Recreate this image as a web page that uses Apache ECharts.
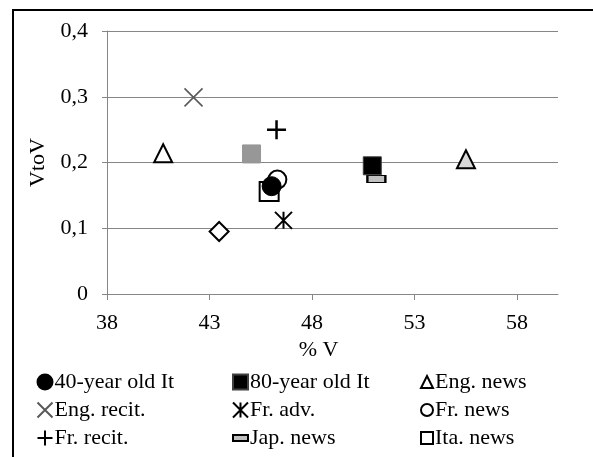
<!DOCTYPE html>
<html>
<head>
<meta charset="utf-8">
<script src="https://cdn.jsdelivr.net/npm/echarts@6/dist/echarts.min.js"></script>
<style>html,body{margin:0;padding:0;background:#fff}#c{width:593px;height:457px}</style>
</head>
<body>
<div id="c"></div>
<script>
// ---- data ----
const xTicks = [38, 43, 48, 53, 58];
const yTicks = [0, 0.1, 0.2, 0.3, 0.4];
const legendCol1 = ['40-year old It', 'Eng. recit.', 'Fr. recit.'];
const legendCol2 = ['80-year old It', 'Fr. adv.', 'Jap. news'];
const legendCol3 = ['Eng. news', 'Fr. news', 'Ita. news'];
const pts40It = [[46.03, 0.164]];
const pts80It = [[50.94, 0.195], [45.05, 0.213]];
const ptsEngNews = [[40.74, 0.214], [55.51, 0.205]];
const ptsEngRecit = [[42.22, 0.299]];
const ptsFrAdv = [[46.61, 0.112]];
const ptsFrNews = [[46.31, 0.174]];
const ptsFrRecit = [[46.27, 0.250]];
const ptsJapNews = [[51.14, 0.175]];
const ptsItaNews = [[45.91, 0.156]];
const ptsOther = [[43.47, 0.095]];

const FONT = 'Liberation Serif';
const GRID = '#868686';
const chart = echarts.init(document.getElementById('c'));

function legend(col, left, size) {
  return {
    orient: 'vertical', left: left, top: 371, padding: 0,
    itemWidth: size, itemHeight: size, itemGap: 6,
    symbolKeepAspect: true,
    data: col.map(n => n === 'Jap. news' ? {name: n, icon: 'path://M0,0h18v7h-18z'} : n),
    textStyle: {fontFamily: FONT, fontSize: 22, color: '#000', lineHeight: 22, padding: [0, 0, 0, -3]},
    selectedMode: false
  };
}

const X = 'path://M0,0L20,20M20,0L0,20';
const PLUS = 'path://M10,0L10,20M0,10L20,10';
const STAR = 'path://M0,0L20,20M20,0L0,20M10,0L10,20';

function st(o) { return Object.assign({opacity: 1}, o); }

chart.setOption({
  animation: false,
  backgroundColor: '#fff',
  graphic: [{type: 'rect', shape: {x: 13, y: 10, width: 700, height: 600},
    style: {fill: 'none', stroke: '#000', lineWidth: 2}, silent: true}],
  grid: {left: 107, right: 35, top: 31, bottom: 163},
  legend: [legend(legendCol1, 35, 15), legend(legendCol2, 230.5, 15), legend(legendCol3, 420, 12)],
  xAxis: {
    type: 'value', min: 38, max: 60,
    name: '% V', nameLocation: 'middle', nameGap: 37,
    nameTextStyle: {fontFamily: FONT, fontSize: 22, color: '#000', padding: [0, 28, 0, 0]},
    axisLine: {show: true, lineStyle: {color: GRID, width: 1}},
    axisTick: {show: true, length: 6, customValues: xTicks, lineStyle: {color: GRID}},
    axisLabel: {customValues: xTicks, margin: 18, fontFamily: FONT, fontSize: 22, color: '#000'},
    splitLine: {show: false}
  },
  yAxis: {
    type: 'value', min: 0, max: 0.4, interval: 0.1,
    name: 'VtoV', nameLocation: 'middle', nameGap: 58,
    nameTextStyle: {fontFamily: FONT, fontSize: 22, color: '#000'},
    axisLine: {show: true, lineStyle: {color: GRID, width: 1}},
    axisTick: {show: true, length: 5, lineStyle: {color: GRID}},
    axisLabel: {margin: 19, fontFamily: FONT, fontSize: 22, color: '#000',
      formatter: v => String(Math.round(v * 10) / 10).replace('.', ',')},
    splitLine: {show: true, lineStyle: {color: GRID, width: 1}}
  },
  series: [
    {name: 'Ita. news', type: 'scatter', data: ptsItaNews, symbol: 'rect', symbolSize: 19,
      itemStyle: st({color: '#fff', borderColor: '#000', borderWidth: 2})},
    {name: 'Fr. news', type: 'scatter', data: ptsFrNews, symbol: 'circle', symbolSize: 18,
      itemStyle: st({color: '#fff', borderColor: '#000', borderWidth: 2})},
    {name: 'Other', type: 'scatter', data: ptsOther, symbol: 'diamond', symbolSize: 19,
      itemStyle: st({color: '#fff', borderColor: '#000', borderWidth: 2})},
    {name: 'Eng. news', type: 'scatter', symbol: 'triangle', symbolSize: 18,
      data: ptsEngNews.map((p, i) => i === 1 ? {value: p, itemStyle: {color: '#d9d9d9'}} : p),
      itemStyle: st({color: '#fff', borderColor: '#000', borderWidth: 2})},
    {name: 'Eng. recit.', type: 'scatter', data: ptsEngRecit, symbol: X, symbolSize: 18,
      itemStyle: st({color: 'none', borderColor: '#595959', borderWidth: 1.6})},
    {name: 'Fr. adv.', type: 'scatter', data: ptsFrAdv, symbol: STAR, symbolSize: 17,
      itemStyle: st({color: 'none', borderColor: '#000', borderWidth: 2})},
    {name: 'Fr. recit.', type: 'scatter', data: ptsFrRecit, symbol: PLUS, symbolSize: 19,
      itemStyle: st({color: 'none', borderColor: '#000', borderWidth: 2.5})},
    {name: 'Jap. news', type: 'scatter', data: ptsJapNews, symbol: 'rect', symbolSize: [18, 7],
      itemStyle: st({color: '#c0c0c0', borderColor: '#000', borderWidth: 1.5})},
    {name: '80-year old It', type: 'scatter', symbol: 'rect', symbolSize: 18,
      data: pts80It.map((p, i) => i === 1 ? {value: p, itemStyle: {color: '#979797', borderColor: '#979797'}} : p),
      itemStyle: st({color: '#000', borderColor: '#404040', borderWidth: 1})},
    {name: '40-year old It', type: 'scatter', data: pts40It, symbol: 'circle', symbolSize: 19,
      itemStyle: st({color: '#000', borderColor: '#000', borderWidth: 1})}
  ]
});
</script>
</body>
</html>
